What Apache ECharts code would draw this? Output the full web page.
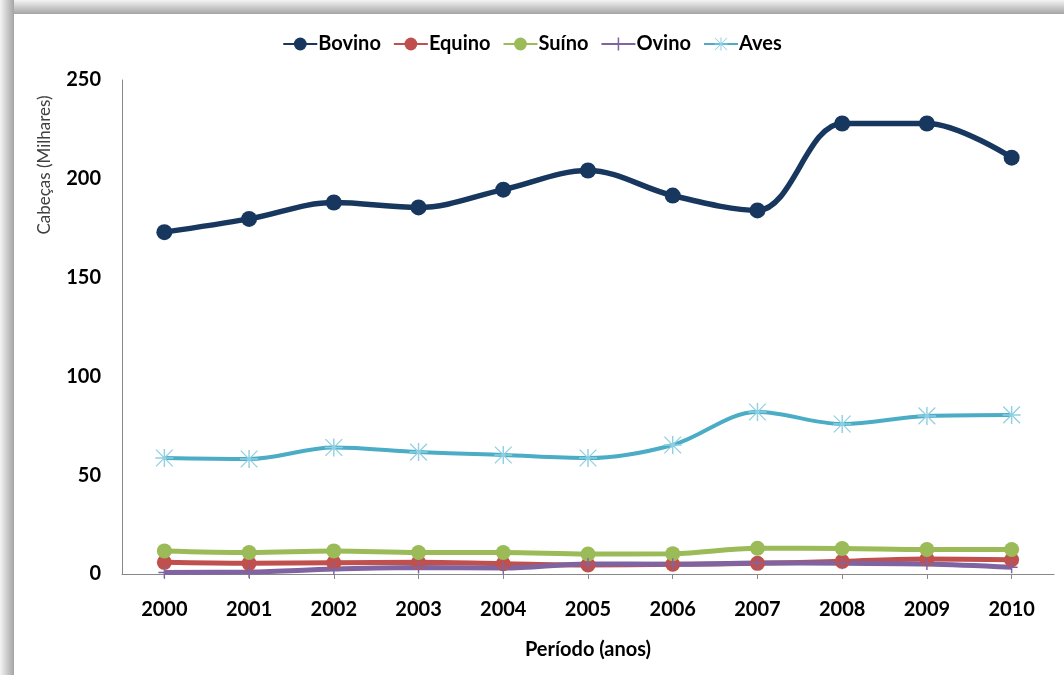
<!DOCTYPE html>
<html><head><meta charset="utf-8">
<script src="https://cdn.jsdelivr.net/npm/echarts@6/dist/echarts.min.js"></script>
<style>html,body{margin:0;padding:0;background:#fff}#c{width:1064px;height:675px}</style>
</head><body><div id="c"></div>
<script>
var years = ['2000','2001','2002','2003','2004','2005','2006','2007','2008','2009','2010'];
var bovino = [173, 179.7, 188, 185.5, 194.5, 204.2, 191.5, 184, 228, 228, 210.7];
var equino = [5.9, 5.4, 5.7, 5.9, 5.2, 4.6, 4.9, 5.4, 6.4, 7.6, 7.2];
var suino  = [11.7, 10.9, 11.7, 10.9, 10.9, 10.1, 10.3, 13.0, 12.9, 12.4, 12.4];
var ovino  = [0.8, 1.0, 2.5, 3.3, 3.0, 5.1, 4.9, 5.6, 5.4, 5.1, 3.4];
var aves   = [58.7, 58.2, 64.0, 61.7, 60.2, 58.7, 65.3, 82.0, 75.9, 80.0, 80.5];
var yTicks = [0, 50, 100, 150, 200, 250];

var chart = echarts.init(document.getElementById('c'));
var FONT = 'Lato, "Open Sans", sans-serif';
var plusPath = 'path://M4.4,0h1.2v10h-1.2z M0,4.4h10v1.2h-10z';
var starPath = 'path://M4.6,0h0.8v10h-0.8z M0,4.6h10v0.8h-10z M0.6,0.1L9.9,9.4L9.4,9.9L0.1,0.6Z M9.4,0.1L9.9,0.6L0.6,9.9L0.1,9.4Z';
function line(name, data, color, symbol, size, width, symColor) {
  return {
    name: name, type: 'line', data: data, smooth: 0.35,
    symbol: symbol, symbolSize: size, showSymbol: true,
    lineStyle: {color: color, width: width},
    itemStyle: {color: symColor || color, borderWidth: 0},
    emphasis: {disabled: true}, z: 3
  };
}
chart.setOption({
  animation: false,
  backgroundColor: '#fff',
  graphic: [
    {type: 'rect', shape: {x: 0, y: 0, width: 1064, height: 14}, style: {fill: new echarts.graphic.LinearGradient(0,0,0,1,[{offset:0,color:'#f4f4f4'},{offset:1,color:'#a4a4a4'}])}, z: -1},
    {type: 'rect', shape: {x: 0, y: 0, width: 14, height: 675}, style: {fill: new echarts.graphic.LinearGradient(0,0,1,0,[{offset:0,color:'#f4f4f4'},{offset:1,color:'#a4a4a4'}])}, z: -1},
    {type: 'text', x: 45, y: 165, rotation: Math.PI/2, style: {text: 'Cabeças (Milhares)', font: '17px ' + FONT, fill: '#404040', align: 'center', verticalAlign: 'middle'}}
  ],
  legend: {
    top: 29, left: 'center', itemWidth: 34, itemHeight: 16, itemGap: 12,
    textStyle: {fontFamily: FONT, fontWeight: 'bold', fontSize: 20, color: '#000', padding: [0,0,0,-4]},
    data: ['Bovino','Equino','Suíno','Ovino','Aves']
  },
  grid: {left: 122, right: 10, top: 80, bottom: 101},
  xAxis: {
    type: 'category', data: years, boundaryGap: true,
    name: 'Período (anos)', nameLocation: 'middle', nameGap: 66,
    nameTextStyle: {fontFamily: FONT, fontWeight: 'bold', fontSize: 20, color: '#000'},
    axisLine: {lineStyle: {color: '#888', width: 1}},
    axisTick: {show: true, alignWithLabel: true, length: 5, lineStyle: {color: '#888'}},
    axisLabel: {fontFamily: FONT, fontWeight: 'bold', fontSize: 20, color: '#000', margin: 26}
  },
  yAxis: {
    type: 'value', min: yTicks[0], max: yTicks[yTicks.length-1], interval: 50,
    axisLine: {show: true, lineStyle: {color: '#888', width: 1}},
    axisTick: {show: false},
    splitLine: {show: false},
    axisLabel: {fontFamily: FONT, fontWeight: 'bold', fontSize: 20, color: '#000', margin: 21}
  },
  series: [
    line('Bovino', bovino, '#17375E', 'circle', 16, 5.5),
    line('Equino', equino, '#C0504D', 'circle', 15, 5),
    line('Suíno', suino, '#9BBB59', 'circle', 15, 5),
    line('Ovino', ovino, '#8064A2', plusPath, 12, 5),
    line('Aves', aves, '#4BACC6', starPath, 18, 4, '#8fd0e2')
  ]
});
</script></body></html>
